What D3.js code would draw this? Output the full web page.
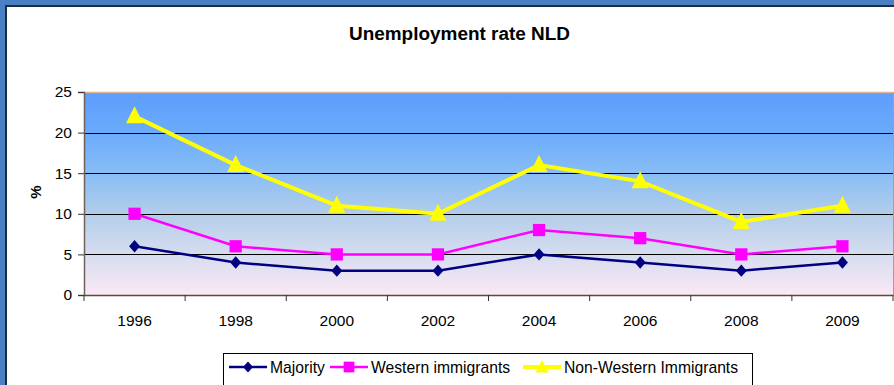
<!DOCTYPE html>
<html><head><meta charset="utf-8">
<script src="https://cdn.jsdelivr.net/npm/d3@7"></script>
<style>html,body{margin:0;padding:0;background:#fff;overflow:hidden}svg{display:block}text{font-family:"Liberation Sans",Arial,sans-serif}</style>
</head><body>
<script>
const years = ["1996","1998","2000","2002","2004","2006","2008","2009"];
const majority = [6,4,3,3,5,4,3,4];
const western = [10,6,5,5,8,7,5,6];
const nonWestern = [22,16,11,10,16,14,9,11];
const yTicks = [0,5,10,15,20,25];
const seriesNames = ["Majority","Western immigrants","Non-Western Immigrants"];

const W=894,H=385;
const svg=d3.select("body").append("svg").attr("width",W).attr("height",H);
// outer frame
svg.append("rect").attr("x",0).attr("y",0).attr("width",W).attr("height",H).attr("fill","#4b80c4");
svg.append("rect").attr("x",5).attr("y",5).attr("width",W).attr("height",H).attr("fill","#1d2b45");
svg.append("rect").attr("x",7).attr("y",7).attr("width",W).attr("height",H).attr("fill","#ffffff");

const L=84,R=893,T=92,B=295;
const x=d3.scaleBand().domain(years).range([L,R]);
const y=d3.scaleLinear().domain([0,25]).range([B,T]);

const defs=svg.append("defs");
const g=defs.append("linearGradient").attr("id","bg").attr("x1",0).attr("y1",0).attr("x2",0).attr("y2",1);
[["0%","#5d9dfd"],["20%","#6babfb"],["40%","#88bdf6"],["60%","#b3cdea"],["80%","#d6ddef"],["100%","#fbe8f6"]]
 .forEach(s=>g.append("stop").attr("offset",s[0]).attr("stop-color",s[1]));
svg.append("rect").attr("x",L).attr("y",T).attr("width",R-L).attr("height",B-T).attr("fill","url(#bg)");
svg.append("line").attr("x1",L).attr("x2",R).attr("y1",T+0.5).attr("y2",T+0.5).attr("stroke","#e0b48e").attr("stroke-width",1.5);
svg.append("line").attr("x1",R+0.5).attr("x2",R+0.5).attr("y1",T).attr("y2",B).attr("stroke","#a0a0a0");

// gridlines
svg.append("g").selectAll("line").data(yTicks.filter(d=>d>0&&d<25)).join("line")
 .attr("x1",L).attr("x2",R).attr("y1",d=>Math.round(y(d))+0.5).attr("y2",d=>Math.round(y(d))+0.5)
 .attr("stroke","#000").attr("stroke-width",1);

// y axis
const ya=svg.append("g").attr("transform",`translate(${L},0)`)
 .call(d3.axisLeft(y).tickValues(yTicks).tickSize(6).tickPadding(6));
ya.select(".domain").attr("stroke","#6e6259").attr("stroke-width",1.5);
ya.selectAll(".tick line").attr("stroke","#333");
ya.selectAll("text").attr("font-size","15.5px").attr("fill","#000").attr("font-family","Liberation Sans, Arial, sans-serif");

// x axis
const xa=svg.append("g").attr("transform",`translate(0,${B})`)
 .call(d3.axisBottom(x).tickSize(0).tickPadding(20));
xa.select(".domain").attr("stroke","#5c4a3f").attr("stroke-width",1.5);
xa.selectAll("text").attr("font-size","15.5px").attr("fill","#000").attr("font-family","Liberation Sans, Arial, sans-serif");
const edges=years.map(d=>x(d)).concat([R]);
svg.append("g").selectAll("line").data(edges).join("line")
 .attr("x1",d=>d).attr("x2",d=>d).attr("y1",B).attr("y2",B+6).attr("stroke","#333");

// title
svg.append("text").attr("x",459.5).attr("y",40).attr("text-anchor","middle").attr("font-size","18px").attr("font-weight","bold")
 .attr("textLength",221).attr("lengthAdjust","spacingAndGlyphs").text("Unemployment rate NLD");
// y label
svg.append("text").attr("transform","translate(41,192) rotate(-90)").attr("text-anchor","middle").attr("font-size","15px").attr("font-weight","bold").text("%");

const diamond=(w,h)=>`M0,${-h}L${w},0L0,${h}L${-w},0Z`;
const cx=d=>x(d)+x.bandwidth()/2;
const series=[
 {name:seriesNames[0],vals:majority,color:"#000080",w:2.5,path:diamond(5.5,6.2),lpath:diamond(5,5.6)},
 {name:seriesNames[1],vals:western,color:"#ff00ff",w:2.5,path:d3.symbol().type(d3.symbolSquare).size(150)(),lpath:d3.symbol().type(d3.symbolSquare).size(115)()},
 {name:seriesNames[2],vals:nonWestern,color:"#ffff00",w:4,path:"M0,-10L8.5,7L-8.5,7Z",lpath:"M0,-7L6.5,5.5L-6.5,5.5Z"}
];
const line=d3.line().x((d,i)=>cx(years[i])).y(d=>y(d));
series.forEach(s=>{
 svg.append("path").datum(s.vals).attr("d",line).attr("fill","none").attr("stroke",s.color).attr("stroke-width",s.w);
});
series.forEach(s=>{
 svg.append("g").selectAll("path").data(s.vals).join("path")
  .attr("d",s.path).attr("transform",(d,i)=>`translate(${cx(years[i])},${y(d)})`).attr("fill",s.color);
});

// legend
svg.append("rect").attr("x",223.5).attr("y",353.5).attr("width",529).attr("height",40).attr("fill","#fff").attr("stroke","#000").attr("stroke-width",1);
const lx=[229,330,523];
series.forEach((s,i)=>{
 const gg=svg.append("g");
 gg.append("line").attr("x1",lx[i]).attr("x2",lx[i]+38).attr("y1",367).attr("y2",367).attr("stroke",s.color).attr("stroke-width",s.w);
 gg.append("path").attr("d",s.lpath).attr("transform",`translate(${lx[i]+19},367)`).attr("fill",s.color);
 gg.append("text").attr("x",lx[i]+41).attr("y",372.5).attr("font-size","15.7px").text(s.name);
});
</script>
</body></html>
